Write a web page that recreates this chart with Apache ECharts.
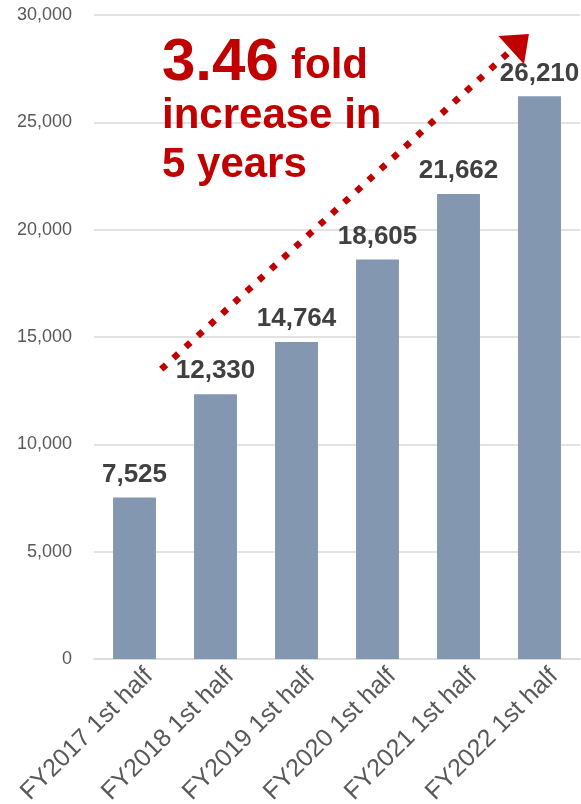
<!DOCTYPE html>
<html>
<head>
<meta charset="utf-8">
<script src="https://cdn.jsdelivr.net/npm/echarts@6/dist/echarts.min.js"></script>
<style>
  html, body { margin: 0; padding: 0; background: #fff; }
  #chart { width: 581px; height: 804px; }
</style>
</head>
<body>
<div id="chart"></div>
<script>
  // data
  const categories = [
    "FY2017 1st half",
    "FY2018 1st half",
    "FY2019 1st half",
    "FY2020 1st half",
    "FY2021 1st half",
    "FY2022 1st half",
  ];
  const values = [7525, 12330, 14764, 18605, 21662, 26210];
  const yTicks = { min: 0, max: 30000, interval: 5000 };
  // dotted trend arrow, in data space: [category position, value]
  const arrowFrom = [0.33, 13500];
  const arrowTo = [4.76, 28740];

  const RED = "#c00000";
  const chart = echarts.init(document.getElementById("chart"), null, { renderer: "canvas" });

  const option = {
    animation: false,
    textStyle: { fontFamily: "Liberation Sans, Arial, sans-serif" },
    grid: {
      left: 94,
      right: 1,
      top: 15,
      bottom: 145,
      containLabel: false,
      outerBoundsMode: "none", // labels may run to the page edge
    },
    // callout text, drawn over the grid lines
    graphic: [
      {
        type: "text",
        z: 100,
        x: 162,
        y: 63,
        style: { text: "3.46", font: "bold 60px Liberation Sans", fill: RED, textVerticalAlign: "middle" },
      },
      {
        type: "text",
        z: 100,
        x: 291,
        y: 66,
        style: { text: "fold", font: "bold 42px Liberation Sans", fill: RED, textVerticalAlign: "middle" },
      },
      {
        type: "text",
        z: 100,
        x: 162,
        y: 116,
        style: { text: "increase in", font: "bold 42px Liberation Sans", fill: RED, textVerticalAlign: "middle" },
      },
      {
        type: "text",
        z: 100,
        x: 162,
        y: 165,
        style: { text: "5 years", font: "bold 42px Liberation Sans", fill: RED, textVerticalAlign: "middle" },
      },
    ],
    xAxis: [
      {
        type: "category",
        data: categories,
        axisLine: { lineStyle: { color: "#d9d9d9", width: 1.5 } },
        axisTick: { show: false },
        axisLabel: {
          rotate: 45,
          interval: 0,
          margin: 10,
          fontSize: 25,
          color: "#595959",
          fontFamily: "Liberation Sans",
          verticalAlign: "top",
          padding: [0, -8, 0, 0],
        },
      },
      {
        // hidden helper axis so the arrow can sit between categories
        type: "value",
        min: -0.5,
        max: 5.5,
        show: false,
      },
    ],
    yAxis: {
      type: "value",
      min: yTicks.min,
      max: yTicks.max,
      interval: yTicks.interval,
      axisLine: { show: false },
      axisTick: { show: false },
      splitLine: { lineStyle: { color: "#d9d9d9", width: 1.5 } },
      axisLabel: {
        margin: 22,
        fontSize: 18,
        color: "#595959",
        fontFamily: "Liberation Sans",
        formatter: (v) => v.toLocaleString("en-US"),
      },
    },
    series: [
      {
        type: "bar",
        data: values,
        barWidth: "53%",
        itemStyle: { color: "#8497b0" },
        label: {
          show: true,
          position: "top",
          distance: 10,
          fontSize: 26,
          fontWeight: "bold",
          color: "#404040",
          fontFamily: "Liberation Sans",
          formatter: (p) => p.value.toLocaleString("en-US"),
        },
      },
      {
        type: "line",
        xAxisIndex: 1,
        data: [],
        markLine: {
          silent: true,
          symbol: ["none", "triangle"],
          symbolSize: [38, 24],
          label: { show: false },
          lineStyle: {
            color: RED,
            width: 6.5,
            type: [6.5, 10],
            cap: "butt",
          },
          data: [[{ coord: arrowFrom }, { coord: arrowTo }]],
        },
      },
    ],
  };

  chart.setOption(option);
</script>
</body>
</html>
